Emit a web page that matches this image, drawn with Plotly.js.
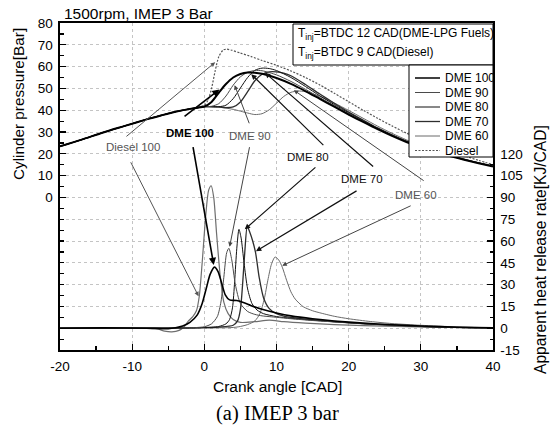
<!DOCTYPE html>
<html>
<head>
<meta charset="utf-8">
<script src="https://cdn.plot.ly/plotly-3.0.1.min.js"></script>
<style>html,body{margin:0;padding:0;background:#fff}</style>
</head>
<body>
<div id="chart" style="width:558px;height:434px"></div>
<script>
// ---- Crank angle / cylinder pressure (bar) ----
// shared compression stroke
const cadComp = [-20, -17, -14, -11, -8, -6, -4, -2];
const pComp   = [23.4, 26.5, 29.8, 32.8, 35.8, 37.6, 39.3, 40.6];

const cadP_DME100 = [-1, 0, 1, 2, 3, 4, 5, 6, 7, 8, 10, 12, 14, 16, 18, 20, 22, 24, 26, 28, 30, 32, 34, 36, 38, 40];
const p_DME100    = [41.1, 41.7, 43.8, 48, 52, 55, 56.6, 57.3, 57.2, 56.7, 54.8, 52.1, 48.8, 45.2, 41.6, 38, 34.6, 31.3, 28.2, 25.4, 23, 20.9, 19, 17.3, 15.7, 14.2];

const cadP_DME90 = [-1, 0, 1, 2, 3, 4, 5, 6, 7, 8, 10, 12, 14, 16, 18, 20, 22, 24, 26, 28, 30, 32, 34, 36, 38, 40];
const p_DME90    = [41.1, 41.6, 41.8, 43, 46.5, 51.5, 55.3, 57.4, 58.2, 58.1, 56.2, 53.2, 49.6, 45.8, 42.1, 38.4, 34.9, 31.5, 28.4, 25.6, 23.1, 21, 19.1, 17.4, 15.8, 14.3];

const cadP_DME80 = [-1, 0, 2, 3, 4, 5, 6, 7, 8, 9, 10, 12, 14, 16, 18, 20, 22, 24, 26, 28, 30, 32, 34, 36, 38, 40];
const p_DME80    = [41.1, 41.6, 41.6, 42.3, 45.3, 50.2, 55, 58.3, 59.3, 59.1, 58.2, 55, 50.9, 46.6, 42.6, 38.8, 35.2, 31.7, 28.6, 25.7, 23.2, 21.1, 19.1, 17.4, 15.8, 14.3];

const cadP_DME70 = [-1, 0, 2, 3, 4, 5, 6, 7, 8, 9, 10, 11, 12, 14, 16, 18, 20, 22, 24, 26, 28, 30, 32, 34, 36, 38, 40];
const p_DME70    = [41.1, 41.6, 41.5, 41.2, 41.5, 43.8, 48.5, 53.5, 56.5, 57.6, 57.6, 57, 55.8, 51.8, 47.4, 43.2, 39.2, 35.5, 31.9, 28.7, 25.8, 23.3, 21.1, 19.2, 17.4, 15.8, 14.3];

const cadP_DME60 = [-1, 0, 2, 4, 6, 7, 8, 9, 10, 11, 12, 13, 14, 16, 18, 20, 22, 24, 26, 28, 30, 32, 34, 36, 38, 40];
const p_DME60    = [41.1, 41.6, 41.4, 40.4, 38.7, 38.0, 38.4, 40.2, 43.2, 46.3, 48.2, 48.8, 48.5, 46.4, 43.3, 39.9, 36.3, 32.7, 29.4, 26.4, 23.7, 21.4, 19.4, 17.6, 15.9, 14.4];

const cadP_Diesel = [-1, 0, 0.5, 1, 1.5, 2, 2.6, 3.1, 3.8, 5, 6.5, 8, 10, 12, 14, 16, 18, 20, 22, 24, 26, 28, 30, 32, 34, 36, 38, 40];
const p_Diesel    = [41.3, 42.3, 44.5, 50, 58, 64.5, 67.6, 68, 67.5, 66.2, 64.6, 62.8, 60.6, 58, 55, 51.6, 47.8, 43.9, 40, 36.3, 32.8, 29.5, 26.5, 23.8, 21.3, 19.1, 17, 15];

// ---- Apparent heat release rate (kJ/CAD) ----
const cadH_DME100 = [-20, -14, -8, -5, -4, -3, -2, -1, -0.3, 0.3, 0.8, 1.4, 1.9, 2.4, 2.9, 3.5, 4.5, 5.5, 6.5, 8, 10, 12, 15, 18, 22, 26, 30, 35, 40];
const h_DME100    = [0, 0.2, 0, -0.3, 0.3, 1.5, 4, 9, 17, 28, 37, 42, 39, 31, 23, 19.5, 19, 17.5, 15.5, 13, 10.5, 8.5, 6.5, 5, 3.5, 2.4, 1.5, 0.7, 0.3];

const cadH_DME90 = [-20, -12, -6, -3, -1, 0, 1, 1.8, 2.3, 2.7, 3.1, 3.4, 3.8, 4.3, 5, 6, 7, 8, 10, 12, 15, 18, 22, 26, 30, 35, 40];
const h_DME90    = [0, 0.1, 0, 0.2, 0.5, 1, 3, 8, 18, 35, 52, 55, 47, 30, 17, 11.5, 9.5, 8.5, 7.5, 6.5, 5.3, 4.3, 3, 2, 1.1, 0.5, 0.1];

const cadH_DME80 = [-20, -12, -6, -2, 0, 2, 3, 3.5, 3.9, 4.2, 4.5, 4.8, 5.1, 5.5, 6.0, 6.6, 7.3, 8.2, 10, 12, 15, 18, 22, 26, 30, 35, 40];
const h_DME80    = [0, 0.1, 0, 0.2, 0.5, 1.2, 3, 6, 14, 32, 55, 68, 62, 45, 27, 17, 12.5, 10, 8, 6.8, 5.5, 4.4, 3.1, 2.1, 1.2, 0.5, 0.1];

const cadH_DME70 = [-20, -12, -6, -2, 0, 2, 4, 4.6, 5.0, 5.3, 5.6, 5.95, 6.3, 6.7, 7.1, 7.6, 8.2, 9, 10, 11, 13, 15, 18, 22, 26, 30, 35, 40];
const h_DME70    = [0, 0.1, 0, 0.2, 0.4, 0.8, 2, 5, 13, 30, 52, 70, 66, 60, 52, 35, 21, 13.5, 10, 8.3, 6.8, 5.8, 4.6, 3.2, 2.2, 1.3, 0.6, 0.2];

const cadH_DME60 = [-20, -12, -6, 0, 4, 5, 6, 7, 7.7, 8.3, 8.8, 9.3, 9.8, 10.3, 10.8, 11.4, 12, 12.6, 13.7, 15, 16, 18, 20, 23, 26, 30, 35, 40];
const h_DME60    = [0, 0.1, 0, 0.2, 0.5, 1.2, 2.5, 5, 10, 20, 33, 44, 49, 47, 42, 33, 25, 20, 14.8, 12, 10.6, 8.2, 6.5, 4.6, 3.2, 2, 0.9, 0.3];

const cadH_Diesel = [-20, -12, -8, -6.5, -5.5, -4.5, -3.5, -2.8, -2.2, -1.6, -1.1, -0.7, -0.3, 0.2, 0.6, 0.95, 1.3, 1.7, 2.2, 2.7, 3.3, 4, 5, 7, 9, 11, 14, 18, 22, 28, 34, 40];
const h_Diesel    = [0, 0.1, 0, -0.5, -2, -2.5, -1.5, 1, 5, 8, 12, 22, 45, 78, 95, 98, 90, 65, 36, 18, 10, 6, 4, 4.5, 5.5, 4.5, 3.5, 2.5, 1.8, 1, 0.5, 0];

// ---- series names and tick labels ----
const seriesNames = ['DME 100', 'DME 90', 'DME 80', 'DME 70', 'DME 60', 'Diesel'];
const xTicks  = [-20, -10, 0, 10, 20, 30, 40];
const pTicks  = [0, 10, 20, 30, 40, 50, 60, 70, 80];
const hTicks  = [-15, 0, 15, 30, 45, 60, 75, 90, 105, 120];

// line styles per series (pressure / heat release)
const styles = {
  'DME 100': {color: '#000000', width: 2.0, dash: 'solid', hColor: '#000000', hDash: 'solid'},
  'DME 90':  {color: '#4a4a4a', width: 1.0, dash: 'solid', hColor: '#4a4a4a', hDash: 'solid'},
  'DME 80':  {color: '#111111', width: 1.0, dash: 'solid', hColor: '#111111', hDash: 'solid'},
  'DME 70':  {color: '#2e2e2e', width: 1.3, dash: 'solid', hColor: '#2e2e2e', hDash: 'solid'},
  'DME 60':  {color: '#6a6a6a', width: 1.0, dash: 'solid', hColor: '#6a6a6a', hDash: 'solid'},
  'Diesel':  {color: '#555555', width: 1.2, dash: '2px,1.5px', hColor: '#6e6e6e', hDash: 'solid'}
};

const pressureData = {
  'DME 100': [cadP_DME100, p_DME100],
  'DME 90':  [cadP_DME90,  p_DME90],
  'DME 80':  [cadP_DME80,  p_DME80],
  'DME 70':  [cadP_DME70,  p_DME70],
  'DME 60':  [cadP_DME60,  p_DME60],
  'Diesel':  [cadP_Diesel, p_Diesel]
};
const hrrData = {
  'DME 100': [cadH_DME100, h_DME100],
  'DME 90':  [cadH_DME90,  h_DME90],
  'DME 80':  [cadH_DME80,  h_DME80],
  'DME 70':  [cadH_DME70,  h_DME70],
  'DME 60':  [cadH_DME60,  h_DME60],
  'Diesel':  [cadH_Diesel, h_Diesel]
};

const traces = [];
// draw in reverse so DME 100 sits on top
seriesNames.slice().reverse().forEach(name => {
  const st = styles[name];
  const [cx, py] = pressureData[name];
  traces.push({
    x: cadComp.concat(cx), y: pComp.concat(py), name: name, yaxis: 'y',
    mode: 'lines', line: {color: st.color, width: st.width, dash: st.dash, shape: 'spline', smoothing: 0.7},
    showlegend: false, hoverinfo: 'skip'
  });
  const [hx, hy] = hrrData[name];
  traces.push({
    x: hx, y: hy, name: name, yaxis: 'y2',
    mode: 'lines', line: {color: st.hColor, width: Math.min(st.width, 1.6), dash: st.hDash, shape: 'spline', smoothing: 0.7},
    showlegend: false, hoverinfo: 'skip'
  });
});

// plot-area pixel helpers (left 60, top 23, 433 x 327)
const PX = px => (px - 60) / 433;
const PY = py => (350 - py) / 327;

const FONT = 'Liberation Sans, Arial, Helvetica, sans-serif';
const shapes = [];
const annotations = [];

// injection timing box
shapes.push({type: 'rect', xref: 'paper', yref: 'paper', x0: PX(293), x1: 1, y0: PY(65), y1: PY(24),
  line: {color: '#000', width: 1}, fillcolor: '#fff', layer: 'above'});
annotations.push({xref: 'paper', yref: 'paper', x: PX(296), y: PY(34), xanchor: 'left', yanchor: 'middle',
  text: 'T<sub>inj</sub>=BTDC 12 CAD(DME-LPG Fuels)', showarrow: false, font: {family: FONT, size: 12, color: '#000'}});
annotations.push({xref: 'paper', yref: 'paper', x: PX(296), y: PY(53), xanchor: 'left', yanchor: 'middle',
  text: 'T<sub>inj</sub>=BTDC 9 CAD(Diesel)', showarrow: false, font: {family: FONT, size: 12, color: '#000'}});

// legend box
shapes.push({type: 'rect', xref: 'paper', yref: 'paper', x0: PX(409), x1: 1, y0: PY(157), y1: PY(65),
  line: {color: '#000', width: 1}, fillcolor: '#fff', layer: 'above'});
seriesNames.forEach((name, i) => {
  const yy = 78 + i * 14.5;
  const st = styles[name];
  shapes.push({type: 'line', xref: 'paper', yref: 'paper', x0: PX(415), x1: PX(440), y0: PY(yy), y1: PY(yy),
    line: {color: st.color, width: Math.min(st.width, 1.5), dash: st.dash}, layer: 'above'});
  annotations.push({xref: 'paper', yref: 'paper', x: PX(443), y: PY(yy), xanchor: 'left', yanchor: 'middle',
    text: name, showarrow: false, font: {family: FONT, size: 12, color: '#000'}});
});

// curve labels with leader arrows (tail -> head, data coordinates)
const labels = [
  {text: 'Diesel 100', x: -9.9, y: 23.2, color: '#555', bold: false},
  {text: 'DME 100',    x: -2.0, y: 29.7, color: '#000', bold: true},
  {text: 'DME 90',     x: 6.3,  y: 28.3, color: '#555', bold: false},
  {text: 'DME 80',     x: 14.4, y: 18.7, color: '#111', bold: false},
  {text: 'DME 70',     x: 21.9, y: 8.5,  color: '#111', bold: false},
  {text: 'DME 60',     x: 29.3, y: 1.2,  color: '#555', bold: false}
];
labels.forEach(l => annotations.push({xref: 'x', yref: 'y', x: l.x, y: l.y, showarrow: false,
  text: l.bold ? '<b>' + l.text + '</b>' : l.text, font: {family: FONT, size: 11.5, color: l.color}}));

const arrows = [
  {t: [-11.0, 27.4], h: [1.5, 62],   ref: 'y',  c: '#555', w: 1},
  {t: [-10.3, 115.2], h: [-0.8, 22], ref: 'y2', c: '#555', w: 1},
  {t: [-2.95, 36.6], h: [2.1, 49.5], ref: 'y',  c: '#000', w: 1.6},
  {t: [-1.6, 125.6], h: [1.3, 43.5], ref: 'y2', c: '#000', w: 1.6},
  {t: [6.3, 33.3],   h: [4.2, 51.5], ref: 'y',  c: '#444', w: 1},
  {t: [6.3, 125.6],  h: [3.5, 56],   ref: 'y2', c: '#444', w: 1},
  {t: [16.7, 23.3],  h: [6.5, 56.5], ref: 'y',  c: '#111', w: 1.2},
  {t: [15.6, 111.6], h: [5.6, 68],   ref: 'y2', c: '#111', w: 1.2},
  {t: [23.6, 13.6],  h: [8.4, 57.2], ref: 'y',  c: '#111', w: 1.2},
  {t: [21.3, 95.1],  h: [7.15, 53],  ref: 'y2', c: '#111', w: 1.2},
  {t: [30.6, 7.2],   h: [12.4, 49.2],ref: 'y',  c: '#444', w: 1},
  {t: [28.8, 84.7],  h: [10.8, 43],  ref: 'y2', c: '#444', w: 1}
];
arrows.forEach(a => annotations.push({
  xref: 'x', yref: a.ref, axref: 'x', ayref: a.ref,
  x: a.h[0], y: a.h[1], ax: a.t[0], ay: a.t[1], text: '',
  showarrow: true, arrowhead: 2, arrowsize: 0.9, arrowwidth: a.w, arrowcolor: a.c, standoff: 0, startstandoff: 0
}));

// titles and caption
annotations.push({xref: 'paper', yref: 'paper', x: PX(62), y: PY(14), xanchor: 'left', yanchor: 'middle',
  text: '1500rpm, IMEP 3 Bar', showarrow: false, font: {family: FONT, size: 15.5, color: '#000'}});
annotations.push({xref: 'paper', yref: 'paper', x: PX(19), y: PY(104), xanchor: 'center', yanchor: 'middle',
  textangle: -90, text: 'Cylinder pressure[Bar]', showarrow: false, font: {family: FONT, size: 15.3, color: '#000'}});
annotations.push({xref: 'paper', yref: 'paper', x: PX(540), y: PY(250), xanchor: 'center', yanchor: 'middle',
  textangle: -90, text: 'Apparent heat release rate[KJ/CAD]', showarrow: false, font: {family: FONT, size: 15.6, color: '#000'}});
annotations.push({xref: 'paper', yref: 'paper', x: PX(277), y: PY(386), xanchor: 'center', yanchor: 'middle',
  text: 'Crank angle [CAD]', showarrow: false, font: {family: FONT, size: 15.5, color: '#000'}});
annotations.push({xref: 'paper', yref: 'paper', x: PX(277.5), y: PY(413), xanchor: 'center', yanchor: 'middle',
  text: '(a) IMEP 3 bar', showarrow: false, font: {family: 'Liberation Serif, Times New Roman, serif', size: 20.5, color: '#000'}});

// minor tick positions; the lower half of the pressure axis carries grid lines every 10 bar
const range = (a, b, s) => { const r = []; for (let v = a; v <= b + 1e-9; v += s) r.push(+v.toFixed(2)); return r; };
const pMinor = range(-70, 80, 5).filter(v => pTicks.indexOf(v) < 0 && v % 10 !== 0);
const pUnlabeled = range(-70, -10, 10);
const hMinor = range(-15, 120, 7.5).filter(v => hTicks.indexOf(v) < 0);

const axisCommon = {
  showline: true, linecolor: '#000', linewidth: 1.6,
  ticks: 'inside', ticklen: 6, tickwidth: 1.2, tickcolor: '#000',
  tickfont: {family: FONT, size: 13.5, color: '#000'},
  zeroline: false, ticklabelstandoff: 3
};

const layout = {
  width: 558, height: 434,
  margin: {l: 60, r: 65, t: 23, b: 84, pad: 0},
  paper_bgcolor: '#fff', plot_bgcolor: '#fff',
  showlegend: false,
  font: {family: FONT, color: '#000'},
  xaxis: Object.assign({}, axisCommon, {
    range: [-20, 40], tickmode: 'array', tickvals: xTicks, ticktext: xTicks.map(String),
    mirror: true, showgrid: true, gridcolor: '#c4c4c4', griddash: 'dot', gridwidth: 1,
    minor: {tickmode: 'linear', tick0: -20, dtick: 5, ticks: 'inside', ticklen: 4, tickcolor: '#000', showgrid: false}
  }),
  yaxis: Object.assign({}, axisCommon, {
    range: [-70, 80], tickmode: 'array', tickvals: pTicks, ticktext: pTicks.map(String),
    showgrid: true, gridcolor: '#c4c4c4', griddash: 'dot', gridwidth: 1,
    minor: {tickmode: 'array', tickvals: pMinor.concat(pUnlabeled), ticks: 'inside', ticklen: 4, tickcolor: '#000',
            showgrid: false}
  }),
  yaxis2: Object.assign({}, axisCommon, {
    range: [-15, 210], overlaying: 'y', side: 'right',
    tickmode: 'array', tickvals: hTicks, ticktext: hTicks.map(String),
    showgrid: true, gridcolor: '#c4c4c4', griddash: 'dot', gridwidth: 1,
    minor: {tickmode: 'array', tickvals: hMinor, ticks: 'inside', ticklen: 3, tickcolor: '#000', showgrid: false}
  }),
  shapes: shapes,
  annotations: annotations
};

Plotly.newPlot('chart', traces, layout, {staticPlot: true, displayModeBar: false});
</script>
</body>
</html>
